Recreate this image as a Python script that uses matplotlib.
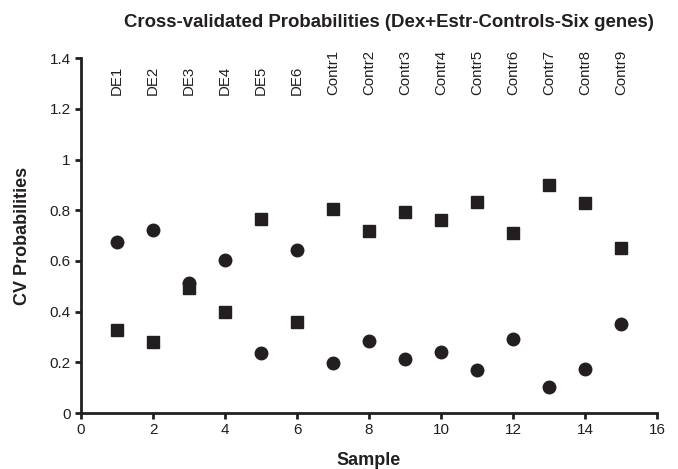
import matplotlib
matplotlib.use('Agg')
import matplotlib.pyplot as plt
from matplotlib.ticker import FuncFormatter

plt.rcParams['font.family'] = ['Liberation Sans', 'DejaVu Sans']

samples = list(range(1, 16))
sample_names = ['DE1', 'DE2', 'DE3', 'DE4', 'DE5', 'DE6',
                'Contr1', 'Contr2', 'Contr3', 'Contr4', 'Contr5',
                'Contr6', 'Contr7', 'Contr8', 'Contr9']
prob_circle = [0.675, 0.722, 0.514, 0.603, 0.237, 0.644, 0.197, 0.283,
               0.212, 0.241, 0.170, 0.292, 0.101, 0.174, 0.352]
prob_square = [0.327, 0.280, 0.492, 0.398, 0.765, 0.359, 0.805, 0.718,
               0.794, 0.763, 0.834, 0.711, 0.901, 0.830, 0.652]

ink = '#231f20'

fig = plt.figure(figsize=(6.78, 4.69), dpi=100)
ax = fig.add_axes([0.1195, 0.1194, 0.8495, 0.7566])

ax.plot(samples, prob_circle, 'o', color=ink, markersize=9, linestyle='none')
ax.plot(samples, prob_square, 's', color=ink, markersize=8, linestyle='none')

# sample names written above the points
for x, name in zip(samples, sample_names):
    ax.text(x, 1.255, name, rotation=90, ha='center', va='bottom',
            fontsize=10.8, color=ink)

ax.set_xlim(0, 16)
ax.set_ylim(0, 1.4)
ax.set_xticks(range(0, 17, 2))
ax.set_yticks([0, 0.2, 0.4, 0.6, 0.8, 1.0, 1.2, 1.4])
ax.yaxis.set_major_formatter(FuncFormatter(lambda v, p: f'{v:g}'))

for side in ['top', 'right']:
    ax.spines[side].set_visible(False)
for side in ['left', 'bottom']:
    ax.spines[side].set_linewidth(2)
    ax.spines[side].set_color(ink)
ax.tick_params(width=2, length=4, labelsize=11, color=ink, labelcolor=ink)

ax.set_xlabel('Sample', fontsize=13, fontweight='bold', color=ink)
ax.set_ylabel('CV Probabilities', fontsize=13, fontweight='bold', color=ink)
ax.xaxis.set_label_coords(0.5, -0.135)
ax.yaxis.set_label_coords(-0.102, 0.5)
ax.xaxis.label.set_va('center')
ax.yaxis.label.set_va('center')

fig.text(0.573, 0.953, 'Cross-validated Probabilities (Dex+Estr-Controls-Six genes)',
         ha='center', va='center', fontsize=13.4, fontweight='bold', color=ink)

fig.savefig('out.png', dpi=100)
